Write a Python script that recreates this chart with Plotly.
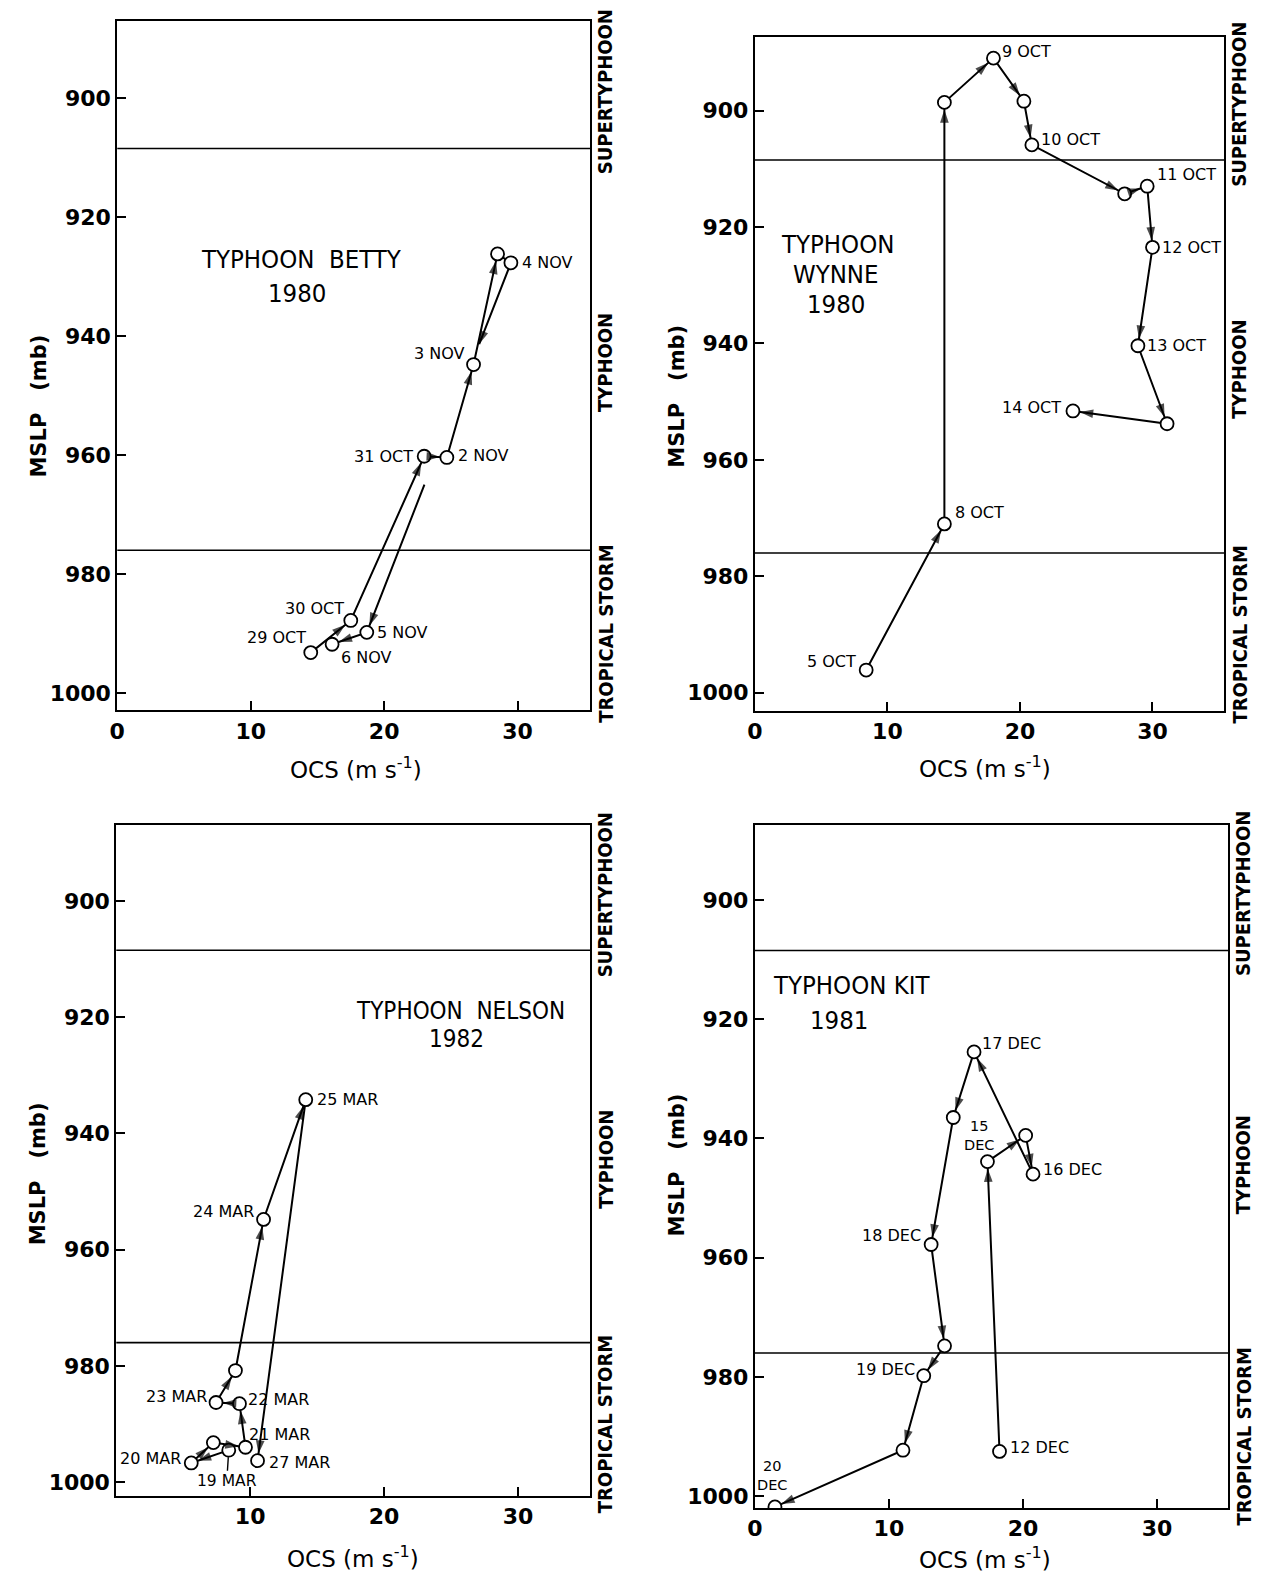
import plotly.graph_objects as go

# ---------------- data: OCS (m/s) vs minimum sea-level pressure (mb) ----------------
betty_ocs = [14.5, 17.5, 23.0, 24.7, 26.7, 28.5, 29.5, 18.7, 16.1]
betty_mslp = [993.2, 987.8, 960.2, 960.4, 944.8, 926.2, 927.7, 989.8, 991.8]
betty_dates = ["29 OCT", "30 OCT", "31 OCT", "2 NOV", "3 NOV", "", "4 NOV", "5 NOV", "6 NOV"]
betty_title = ["TYPHOON  BETTY", "1980"]

wynne_ocs = [8.4, 14.3, 14.3, 18.0, 20.3, 20.9, 27.9, 29.6, 30.0, 28.9, 31.1, 24.0]
wynne_mslp = [996.1, 971.0, 898.6, 891.0, 898.4, 905.9, 914.3, 913.0, 923.5, 940.4, 953.8, 951.6]
wynne_dates = ["5 OCT", "8 OCT", "", "9 OCT", "", "10 OCT", "", "11 OCT", "12 OCT", "13 OCT", "", "14 OCT"]
wynne_title = ["TYPHOON", "WYNNE", "1980"]

nelson_ocs = [8.4, 5.6, 7.25, 9.65, 9.2, 7.45, 8.9, 11.0, 14.15, 10.55]
nelson_mslp = [994.5, 996.7, 993.2, 994.0, 986.5, 986.3, 980.8, 954.8, 934.2, 996.3]
nelson_dates = ["19 MAR", "20 MAR", "", "21 MAR", "22 MAR", "23 MAR", "", "24 MAR", "25 MAR", "27 MAR"]
nelson_title = ["TYPHOON  NELSON", "1982"]

kit_ocs = [18.25, 17.35, 20.2, 20.75, 16.35, 14.8, 13.15, 14.15, 12.6, 11.05, 1.5]
kit_mslp = [992.5, 943.9, 939.5, 946.0, 925.5, 936.5, 957.8, 974.8, 979.8, 992.3, 1001.8]
kit_dates = ["12 DEC", "15<br>DEC", "", "16 DEC", "17 DEC", "", "18 DEC", "", "19 DEC", "", "20<br>DEC"]
kit_title = ["TYPHOON KIT", "1981"]

# intensity-class boundaries (mb) and class names
class_bounds = [908.5, 976.0]
class_names = ["SUPERTYPHOON", "TYPHOON", "TROPICAL STORM"]
class_label_mslp = [899.0, 944.5, 990.0]

y_ticks = [900, 920, 940, 960, 980, 1000]
x_ticks = [0, 10, 20, 30]
x_ticks_nelson = [10, 20, 30]

# ---------------- styling ----------------
W, H = 1267, 1576
TXT = "DejaVu Sans Condensed, DejaVu Sans, sans-serif"
TXT_REG = "DejaVu Sans, sans-serif"
BLACK = "black"
R = 7        # marker radius (px)
HEAD = 14    # arrowhead size (px)

# label placement per point: (xanchor, xshift, yshift)
betty_lab = [("right", -3, 15), ("right", -5, 12), ("right", -9, 0), ("left", 9, 2),
             ("right", -7, 11), None, ("left", 9, 0), ("left", 8, 0), ("left", 7, -13)]
wynne_lab = [("right", -8, 9), ("left", 9, 11), None, ("left", 7, 7), None, ("left", 7, 5),
             None, ("left", 8, 12), ("left", 8, 0), ("left", 7, 0), None, ("right", -10, 3)]
nelson_lab = ["leader", ("right", -8, 4), None, ("left", 2, 13), ("left", 7, 4),
              ("right", -7, 6), None, ("right", -8, 8), ("left", 9, 0), ("left", 9, -2)]
kit_lab = [("left", 8, 4), ("stack", -8, 7), None, ("left", 8, 5), ("left", 6, 8), None,
           ("right", -8, 9), None, ("right", -7, 6), None, ("stack", -3, 12)]

panels = [
    dict(ocs=betty_ocs, mslp=betty_mslp, dates=betty_dates, lab=betty_lab, title=betty_title,
         title_x=[13.8, 13.5], title_y=[927.0, 932.7], title_size=25.5,
         xdom=[0.0868, 0.4625], ydom=[0.5490, 0.9869], xr=[0, 35.45], yr=[1002.9, 887.0],
         xt=x_ticks, ytitle_mslp=951.8, xtitle_x=17.9, xtitle_shift=-58,
         gap=(6, 0.22, 0.60), no_arrow={5}),
    dict(ocs=wynne_ocs, mslp=wynne_mslp, dates=wynne_dates, lab=wynne_lab, title=wynne_title,
         title_x=[6.2, 6.1, 6.1], title_y=[922.9, 928.0, 933.2], title_size=25.5,
         xdom=[0.5932, 0.9659], ydom=[0.5487, 0.9764], xr=[0, 35.4], yr=[1003.1, 887.4],
         xt=x_ticks, ytitle_mslp=949.0, xtitle_x=17.4, xtitle_shift=-56,
         gap=None, no_arrow=set()),
    dict(ocs=nelson_ocs, mslp=nelson_mslp, dates=nelson_dates, lab=nelson_lab, title=nelson_title,
         title_x=[25.7, 25.4], title_y=[919.0, 923.8], title_size=24,
         xdom=[0.0860, 0.4625], ydom=[0.0501, 0.4760], xr=[0, 35.4], yr=[1002.4, 887.0],
         xt=x_ticks_nelson, ytitle_mslp=947.0, xtitle_x=17.7, xtitle_shift=-61,
         gap=None, no_arrow=set()),
    dict(ocs=kit_ocs, mslp=kit_mslp, dates=kit_dates, lab=kit_lab, title=kit_title,
         title_x=[7.2, 6.3], title_y=[914.3, 920.2], title_size=25.5,
         xdom=[0.5932, 0.9691], ydom=[0.0425, 0.4760], xr=[0, 35.3], yr=[1002.0, 887.5],
         xt=x_ticks, ytitle_mslp=944.4, xtitle_x=17.2, xtitle_shift=-50,
         gap=None, no_arrow=set()),
]

fig = go.Figure()
annotations = []
shapes = []
layout_axes = {}

for i, p in enumerate(panels, start=1):
    sfx = "" if i == 1 else str(i)
    xa, ya = "x" + sfx, "y" + sfx
    xs, ys = p["ocs"], p["mslp"]

    # track vertices; a segment may be broken where it passes behind other marks.
    # Each vertex carries its arrowhead size and how far the tip stands off from it.
    tx, ty, head, stand = [], [], [], []
    for k in range(len(xs)):
        tx.append(xs[k]); ty.append(ys[k])
        head.append(0 if (k == 0 or (k - 1) in p["no_arrow"]) else HEAD)
        stand.append(R)
        if p["gap"] and k == p["gap"][0]:
            _, t0, t1 = p["gap"]
            dx, dy = xs[k + 1] - xs[k], ys[k + 1] - ys[k]
            tx += [xs[k] + t0 * dx, None, xs[k] + t1 * dx]
            ty += [ys[k] + t0 * dy, None, ys[k] + t1 * dy]
            head += [HEAD, 0, 0]
            stand += [0, 0, 0]

    fig.add_trace(go.Scatter(x=tx, y=ty, xaxis=xa, yaxis=ya, mode="lines",
                             line=dict(color=BLACK, width=2), hoverinfo="skip", showlegend=False))
    fig.add_trace(go.Scatter(x=xs, y=ys, xaxis=xa, yaxis=ya, mode="markers",
                             marker=dict(size=2 * R - 1, color="white", line=dict(color=BLACK, width=1.8)),
                             hoverinfo="skip", showlegend=False))
    # arrowheads: each points from the previous vertex to this one, tip at the circle edge
    keep = [j for j, v in enumerate(tx) if v is not None]
    fig.add_trace(go.Scatter(x=[tx[j] for j in keep], y=[ty[j] for j in keep],
                             xaxis=xa, yaxis=ya, mode="markers",
                             marker=dict(symbol="arrow", angleref="previous",
                                         size=[head[j] for j in keep],
                                         standoff=[stand[j] for j in keep],
                                         color=BLACK, line=dict(width=0)),
                             hoverinfo="skip", showlegend=False))

    # date labels
    for k, txt in enumerate(p["dates"]):
        spec = p["lab"][k]
        if not txt or spec is None:
            continue
        if spec == "leader":
            annotations.append(dict(xref=xa, yref=ya, x=xs[k], y=ys[k], text=txt,
                                    showarrow=True, arrowhead=0, arrowwidth=1.4, arrowcolor=BLACK,
                                    ax=-2, ay=31, standoff=R,
                                    font=dict(family=TXT_REG, size=15.5, color=BLACK)))
            continue
        anch, dxs, dys = spec
        if anch == "stack":
            annotations.append(dict(xref=xa, yref=ya, x=xs[k], y=ys[k], text=txt, showarrow=False,
                                    xanchor="center", yanchor="bottom", xshift=dxs, yshift=dys,
                                    align="center",
                                    font=dict(family=TXT_REG, size=14.5, color=BLACK)))
        else:
            annotations.append(dict(xref=xa, yref=ya, x=xs[k], y=ys[k], text=txt, showarrow=False,
                                    xanchor=anch, yanchor="middle", xshift=dxs, yshift=dys,
                                    font=dict(family=TXT_REG, size=16, color=BLACK)))

    # storm name and year
    for line, xx, yy in zip(p["title"], p["title_x"], p["title_y"]):
        annotations.append(dict(xref=xa, yref=ya, x=xx, y=yy, text=line, showarrow=False,
                                xanchor="center", yanchor="middle",
                                font=dict(family=TXT, size=p["title_size"], color=BLACK)))

    # intensity class boundaries
    for yb in class_bounds:
        shapes.append(dict(type="line", xref=xa + " domain", yref=ya, x0=0, x1=1, y0=yb, y1=yb,
                           line=dict(color=BLACK, width=1.6)))

    # class names along the right edge
    for name, yy in zip(class_names, class_label_mslp):
        annotations.append(dict(xref=xa + " domain", yref=ya, x=1, y=yy, text=name, showarrow=False,
                                textangle=-90, xanchor="center", yanchor="middle", xshift=15,
                                font=dict(family=TXT, size=20, color=BLACK, weight="bold")))

    # axis titles
    annotations.append(dict(xref=xa + " domain", yref=ya, x=0, y=p["ytitle_mslp"],
                            text="MSLP   (mb)", showarrow=False, textangle=-90,
                            xanchor="center", yanchor="middle", xshift=-78,
                            font=dict(family=TXT_REG, size=21, color=BLACK, weight="bold")))
    annotations.append(dict(xref=xa, yref=ya + " domain", x=p["xtitle_x"], y=0,
                            text="OCS (m s<sup>-1</sup>)", showarrow=False,
                            xanchor="center", yanchor="middle", yshift=p["xtitle_shift"],
                            font=dict(family=TXT_REG, size=23, color=BLACK)))

    tickfont = dict(family=TXT_REG, size=22, color=BLACK, weight="bold")
    layout_axes["xaxis" + sfx] = dict(
        domain=p["xdom"], range=p["xr"], anchor=ya, tickvals=p["xt"], ticks="inside", ticklen=9,
        tickwidth=2, tickcolor=BLACK, showline=True, linecolor=BLACK, linewidth=2, mirror=True,
        showgrid=False, zeroline=False, tickfont=tickfont, fixedrange=True)
    layout_axes["yaxis" + sfx] = dict(
        domain=p["ydom"], range=p["yr"], anchor=xa, tickvals=y_ticks, ticks="inside", ticklen=9,
        tickwidth=2, tickcolor=BLACK, showline=True, linecolor=BLACK, linewidth=2, mirror=True,
        showgrid=False, zeroline=False, tickfont=tickfont, fixedrange=True)

fig.update_layout(width=W, height=H, margin=dict(l=0, r=0, t=0, b=0), autosize=False,
                  paper_bgcolor="white", plot_bgcolor="white", showlegend=False,
                  annotations=annotations, shapes=shapes, **layout_axes)

fig.write_html("out.html", config=dict(displayModeBar=False))
